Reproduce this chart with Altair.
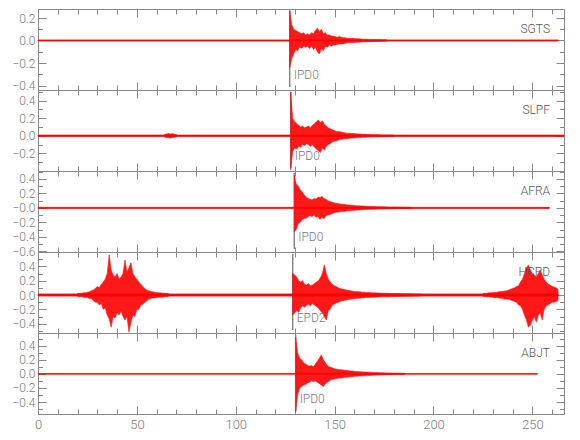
import altair as alt
import pandas as pd

# ---------------- data ----------------
stations = ["SGTS", "SLPF", "AFRA", "HCPD", "ABJT"]
phases = ["IPD0", "IPD0", "IPD0", "EPD2", "IPD0"]
pick_times = [127.3, 127.8, 129.6, 128.8, 130.3]
trace_start = [0.0, 0.0, 0.0, 0.0, 0.0]
trace_end = [263.0, 266.0, 258.6, 263.0, 252.5]
noise_amp = [0.005, 0.008, 0.008, 0.015, 0.006]

y_domains = [[-0.44, 0.28], [-0.40, 0.52], [-0.61, 0.51], [-0.53, 0.60], [-0.57, 0.58]]
y_ticks = [
    [-0.4, -0.3, -0.2, -0.1, 0.0, 0.1, 0.2],
    [-0.3, -0.2, -0.1, 0.0, 0.1, 0.2, 0.3, 0.4, 0.5],
    [-0.6, -0.5, -0.4, -0.3, -0.2, -0.1, 0.0, 0.1, 0.2, 0.3, 0.4, 0.5],
    [-0.5, -0.4, -0.3, -0.2, -0.1, 0.0, 0.1, 0.2, 0.3, 0.4, 0.5, 0.6],
    [-0.5, -0.4, -0.3, -0.2, -0.1, 0.0, 0.1, 0.2, 0.3, 0.4, 0.5],
]
y_labels = [
    [-0.4, -0.2, 0.0, 0.2],
    [-0.2, 0.0, 0.2, 0.4],
    [-0.6, -0.4, -0.2, 0.0, 0.2, 0.4],
    [-0.4, -0.2, 0.0, 0.2, 0.4],
    [-0.4, -0.2, 0.0, 0.2, 0.4],
]
x_ticks = [0, 10, 20, 30, 40, 50, 60, 70, 80, 90, 100, 110, 120, 130, 140, 150,
           160, 170, 180, 190, 200, 210, 220, 230, 240, 250, 260]
x_labels = [0, 50, 100, 150, 200, 250]

# envelope (max / min per second) of each active stretch of the traces
sgts_t0 = 127.3
sgts_hi = [0.27, 0.14, 0.10, 0.09, 0.08, 0.07, 0.06, 0.07, 0.05, 0.06, 0.05, 0.07, 0.06,
           0.09, 0.11, 0.08, 0.10, 0.06, 0.07, 0.05, 0.05, 0.04, 0.04, 0.035, 0.03, 0.035,
           0.03, 0.025, 0.025, 0.02, 0.02, 0.018, 0.02, 0.016, 0.015, 0.015, 0.013, 0.012,
           0.012, 0.011, 0.01, 0.01, 0.009, 0.009, 0.008, 0.008, 0.008, 0.007, 0.007, 0.007]
sgts_lo = [-0.24, -0.16, -0.12, -0.08, -0.09, -0.06, -0.07, -0.05, -0.06, -0.05, -0.07, -0.05,
           -0.08, -0.06, -0.10, -0.12, -0.07, -0.09, -0.05, -0.06, -0.04, -0.05, -0.04, -0.04,
           -0.035, -0.03, -0.03, -0.03, -0.025, -0.02, -0.02, -0.018, -0.02, -0.016, -0.015,
           -0.015, -0.013, -0.012, -0.012, -0.011, -0.01, -0.01, -0.009, -0.009, -0.008,
           -0.008, -0.008, -0.007, -0.007, -0.007]

slpf_t0 = 127.8
slpf_hi = [0.50, 0.20, 0.16, 0.14, 0.12, 0.10, 0.11, 0.09, 0.10, 0.11, 0.09, 0.12, 0.14,
           0.16, 0.18, 0.15, 0.17, 0.13, 0.11, 0.09, 0.08, 0.07, 0.06, 0.05, 0.05, 0.045,
           0.04, 0.035, 0.03, 0.03, 0.028, 0.025, 0.025, 0.022, 0.02, 0.02, 0.018, 0.017,
           0.016, 0.015, 0.014, 0.013, 0.012, 0.012, 0.011, 0.011, 0.01, 0.01, 0.009,
           0.009, 0.009, 0.008, 0.008]
slpf_lo = [-0.39, -0.18, -0.14, -0.15, -0.12, -0.13, -0.10, -0.11, -0.09, -0.10, -0.12,
           -0.10, -0.13, -0.15, -0.17, -0.19, -0.14, -0.16, -0.12, -0.10, -0.09, -0.07,
           -0.06, -0.06, -0.05, -0.04, -0.04, -0.035, -0.035, -0.03, -0.028, -0.025, -0.025,
           -0.022, -0.02, -0.02, -0.018, -0.017, -0.016, -0.015, -0.014, -0.013, -0.012,
           -0.012, -0.011, -0.011, -0.01, -0.01, -0.009, -0.009, -0.009, -0.008, -0.008]
slpf2_t0 = 64.0
slpf2_hi = [0.015, 0.02, 0.025, 0.02, 0.025, 0.018, 0.015]
slpf2_lo = [-0.015, -0.02, -0.022, -0.025, -0.02, -0.018, -0.014]

afra_t0 = 129.6
afra_hi = [0.45, 0.33, 0.30, 0.25, 0.22, 0.18, 0.15, 0.13, 0.12, 0.11, 0.13, 0.12, 0.15,
           0.14, 0.16, 0.13, 0.12, 0.10, 0.09, 0.08, 0.07, 0.065, 0.06, 0.055, 0.05, 0.05,
           0.045, 0.04, 0.04, 0.035, 0.035, 0.03, 0.03, 0.028, 0.027, 0.025, 0.024, 0.022,
           0.02, 0.02, 0.019, 0.018, 0.017, 0.016, 0.015, 0.015, 0.014, 0.013, 0.013,
           0.012, 0.012, 0.011, 0.011, 0.01, 0.01, 0.009, 0.009, 0.009, 0.008, 0.008]
afra_lo = [-0.33, -0.30, -0.22, -0.20, -0.16, -0.15, -0.14, -0.12, -0.11, -0.12, -0.10,
           -0.13, -0.12, -0.16, -0.13, -0.15, -0.11, -0.10, -0.09, -0.08, -0.07, -0.06,
           -0.06, -0.055, -0.05, -0.05, -0.045, -0.04, -0.04, -0.035, -0.035, -0.03, -0.03,
           -0.028, -0.027, -0.025, -0.024, -0.022, -0.02, -0.02, -0.019, -0.018, -0.017,
           -0.016, -0.015, -0.015, -0.014, -0.013, -0.013, -0.012, -0.012, -0.011, -0.011,
           -0.01, -0.01, -0.009, -0.009, -0.009, -0.008, -0.008]

hcpd1_t0 = 20.0
hcpd1_hi = [0.02, 0.02, 0.025, 0.03, 0.03, 0.04, 0.045, 0.06, 0.07, 0.09, 0.12, 0.10,
            0.15, 0.18, 0.22, 0.30, 0.56, 0.35, 0.28, 0.25, 0.30, 0.22, 0.25, 0.30, 0.49,
            0.32, 0.38, 0.45, 0.30, 0.25, 0.22, 0.18, 0.15, 0.12, 0.09, 0.07, 0.06, 0.05,
            0.045, 0.04, 0.035, 0.03, 0.03, 0.025, 0.025, 0.02, 0.02]
hcpd1_lo = [-0.02, -0.025, -0.02, -0.03, -0.035, -0.035, -0.05, -0.05, -0.08, -0.10,
            -0.10, -0.14, -0.12, -0.20, -0.18, -0.28, -0.33, -0.45, -0.30, -0.32, -0.25,
            -0.28, -0.22, -0.30, -0.35, -0.30, -0.52, -0.38, -0.28, -0.30, -0.20, -0.20,
            -0.14, -0.13, -0.10, -0.08, -0.06, -0.05, -0.04, -0.04, -0.035, -0.03, -0.03,
            -0.03, -0.025, -0.02, -0.02]
hcpd2_t0 = 128.8
hcpd2_hi = [0.30, 0.28, 0.25, 0.20, 0.18, 0.20, 0.15, 0.14, 0.16, 0.13, 0.14, 0.16, 0.18,
            0.20, 0.24, 0.30, 0.42, 0.30, 0.22, 0.18, 0.15, 0.13, 0.12, 0.10, 0.09, 0.085,
            0.08, 0.07, 0.065, 0.06, 0.055, 0.05, 0.05, 0.045, 0.045, 0.04, 0.04, 0.035,
            0.035, 0.035, 0.03, 0.03, 0.03, 0.028, 0.027, 0.026, 0.025, 0.025, 0.024,
            0.023, 0.022, 0.022, 0.021, 0.02, 0.02, 0.019, 0.018, 0.018, 0.017, 0.017,
            0.016, 0.016, 0.015, 0.015, 0.015, 0.015]
hcpd2_lo = [-0.28, -0.25, -0.22, -0.24, -0.18, -0.15, -0.17, -0.14, -0.13, -0.15, -0.12,
            -0.14, -0.16, -0.18, -0.22, -0.25, -0.30, -0.35, -0.22, -0.20, -0.14, -0.13,
            -0.11, -0.10, -0.09, -0.08, -0.075, -0.07, -0.065, -0.06, -0.055, -0.05, -0.05,
            -0.045, -0.045, -0.04, -0.04, -0.035, -0.035, -0.035, -0.03, -0.03, -0.03,
            -0.028, -0.027, -0.026, -0.025, -0.025, -0.024, -0.023, -0.022, -0.022, -0.021,
            -0.02, -0.02, -0.019, -0.018, -0.018, -0.017, -0.017, -0.016, -0.016, -0.015,
            -0.015, -0.015, -0.015]
hcpd3_t0 = 225.0
hcpd3_hi = [0.02, 0.025, 0.025, 0.03, 0.03, 0.035, 0.035, 0.04, 0.045, 0.05, 0.05, 0.055,
            0.06, 0.07, 0.08, 0.09, 0.10, 0.12, 0.13, 0.18, 0.22, 0.30, 0.38, 0.42, 0.35,
            0.30, 0.28, 0.25, 0.30, 0.35, 0.28, 0.22, 0.18, 0.15, 0.14, 0.12, 0.11, 0.10,
            0.08]
hcpd3_lo = [-0.02, -0.02, -0.025, -0.025, -0.03, -0.03, -0.04, -0.035, -0.04, -0.045,
            -0.05, -0.06, -0.055, -0.06, -0.07, -0.08, -0.09, -0.10, -0.14, -0.15, -0.20,
            -0.28, -0.35, -0.45, -0.42, -0.35, -0.30, -0.38, -0.28, -0.25, -0.35, -0.20,
            -0.15, -0.14, -0.12, -0.10, -0.10, -0.09, -0.08]

abjt_t0 = 130.3
abjt_hi = [0.52, 0.30, 0.22, 0.20, 0.16, 0.14, 0.12, 0.11, 0.12, 0.10, 0.14, 0.18, 0.22,
           0.27, 0.20, 0.16, 0.12, 0.10, 0.09, 0.08, 0.07, 0.065, 0.06, 0.06, 0.055, 0.05,
           0.05, 0.045, 0.04, 0.04, 0.035, 0.035, 0.03, 0.03, 0.028, 0.026, 0.025, 0.024,
           0.022, 0.02, 0.02, 0.018, 0.017, 0.016, 0.015, 0.014, 0.013, 0.012, 0.011,
           0.011, 0.01, 0.01, 0.009, 0.009, 0.008, 0.008]
abjt_lo = [-0.54, -0.30, -0.20, -0.18, -0.16, -0.15, -0.13, -0.12, -0.10, -0.11, -0.10,
           -0.12, -0.14, -0.16, -0.18, -0.14, -0.12, -0.10, -0.08, -0.08, -0.07, -0.065,
           -0.06, -0.06, -0.055, -0.05, -0.05, -0.045, -0.04, -0.04, -0.035, -0.035, -0.03,
           -0.03, -0.028, -0.026, -0.025, -0.024, -0.022, -0.02, -0.02, -0.018, -0.017,
           -0.016, -0.015, -0.014, -0.013, -0.012, -0.011, -0.011, -0.01, -0.01, -0.009,
           -0.009, -0.008, -0.008]

segments = [
    [(sgts_t0, sgts_hi, sgts_lo)],
    [(slpf_t0, slpf_hi, slpf_lo), (slpf2_t0, slpf2_hi, slpf2_lo)],
    [(afra_t0, afra_hi, afra_lo)],
    [(hcpd1_t0, hcpd1_hi, hcpd1_lo), (hcpd2_t0, hcpd2_hi, hcpd2_lo),
     (hcpd3_t0, hcpd3_hi, hcpd3_lo)],
    [(abjt_t0, abjt_hi, abjt_lo)],
]

# ---------------- chart ----------------
X_MAX = 266
W, H = 526, 81
RED = "#ff0000"
FONT = "Roboto, Liberation Sans, sans-serif"
GRAY = "#888888"
TXT = "#7a7a7a"

major_y = "abs(datum.value * 5 - round(datum.value * 5)) < 0.01"
major_x = "datum.value % 50 == 0"


def panel(i):
    last = i == len(stations) - 1
    xs = alt.Scale(domain=[0, X_MAX], nice=False, zero=False)
    ys = alt.Scale(domain=y_domains[i], nice=False, zero=False)

    rows = []
    for s, (t0, hi, lo) in enumerate(segments[i]):
        for k in range(len(hi)):
            rows.append({"seg": s, "t": t0 + k, "hi": hi[k], "lo": lo[k]})
    wave_df = pd.DataFrame(rows)

    base_df = pd.DataFrame({"ts": [trace_start[i]], "te": [trace_end[i]],
                            "nlo": [-noise_amp[i]], "nhi": [noise_amp[i]]})
    pick_df = pd.DataFrame({"pick": [pick_times[i]], "phase": [phases[i]]})
    name_df = pd.DataFrame({"name": [stations[i]]})
    tick_df = pd.DataFrame({"t": [0.0], "v": [0.0]})

    label_expr = "datum.label"
    if i == 2:
        label_expr = "abs(datum.value) < 1e-9 ? '\u22120.0' : datum.label"

    ylab = alt.Axis(orient="left", values=y_labels[i], format=".1f", ticks=False,
                    tickSize=0, domain=False, grid=False, labelPadding=3,
                    labelFont=FONT, labelFontSize=12, labelFontWeight=300,
                    labelColor=TXT, labelExpr=label_expr, labelFlush=False,
                    labelOverlap=False, title=None, minExtent=29, maxExtent=29)
    xlab = alt.Axis(orient="bottom", values=x_labels, format="d", ticks=False,
                    tickSize=0, domain=False, grid=False, labelPadding=4,
                    labelFont=FONT, labelFontSize=13, labelFontWeight=300,
                    labelColor=TXT, labelFlush=False, labelOverlap=False, title=None)

    def ytick_axis(orient):
        return alt.Axis(orient=orient, offset=-W, values=y_ticks[i], labels=False,
                        domain=False, grid=False, ticks=True, tickColor=GRAY,
                        tickSize={"condition": {"test": major_y, "value": 8}, "value": 4.5},
                        title=None)

    def xtick_axis(orient):
        return alt.Axis(orient=orient, offset=-H, values=x_ticks, labels=False,
                        domain=False, grid=False, ticks=True, tickColor=GRAY,
                        tickSize={"condition": {"test": major_x, "value": 8}, "value": 5},
                        title=None)

    pick = alt.Chart(pick_df).mark_rule(color=GRAY, strokeWidth=1.5).encode(
        x=alt.X("pick:Q", scale=xs, axis=None),
        y=alt.value(2), y2=alt.value(78))

    base = alt.Chart(base_df).mark_rect(color=RED, stroke=RED, strokeWidth=0.7).encode(
        x=alt.X("ts:Q", scale=xs, axis=None), x2="te:Q",
        y=alt.Y("nlo:Q", scale=ys, axis=None), y2="nhi:Q")

    wave = alt.Chart(wave_df).mark_area(color=RED, opacity=0.9, stroke=RED,
                                        strokeWidth=0.6, clip=True).encode(
        x=alt.X("t:Q", scale=xs, axis=xlab if last else None),
        y=alt.Y("lo:Q", scale=ys, axis=ylab), y2="hi:Q", detail="seg:N")

    ax_a = alt.Chart(tick_df).mark_point(opacity=0).encode(
        x=alt.X("t:Q", scale=xs, axis=xtick_axis("bottom")),
        y=alt.Y("v:Q", scale=ys, axis=ytick_axis("right")))
    ax_b = alt.Chart(tick_df).mark_point(opacity=0).encode(
        x=alt.X("t:Q", scale=xs, axis=xtick_axis("top")),
        y=alt.Y("v:Q", scale=ys, axis=ytick_axis("left")))

    name = alt.Chart(name_df).mark_text(align="right", baseline="middle", font=FONT,
                                        fontSize=12, fontWeight=300,
                                        color="#555555").encode(
        x=alt.value(W - 14), y=alt.value(20), text="name:N")

    phase = alt.Chart(pick_df).mark_text(align="left", baseline="middle", dx=4, font=FONT,
                                         fontSize=12, fontWeight=300, color=TXT).encode(
        x=alt.X("pick:Q", scale=xs, axis=None), y=alt.value(66), text="phase:N")

    return alt.layer(pick, base, wave, ax_a, ax_b, name, phase).resolve_axis(
        x="independent", y="independent").properties(width=W, height=H)


chart = alt.vconcat(*[panel(i) for i in range(len(stations))], spacing=0,
                    bounds="flush").configure_view(
    stroke=GRAY, strokeWidth=1).configure_axis(grid=False).properties(
    padding={"left": 0, "top": 0, "right": 5, "bottom": 5})

chart.save("out.html", embed_options={"renderer": "svg", "actions": False})
